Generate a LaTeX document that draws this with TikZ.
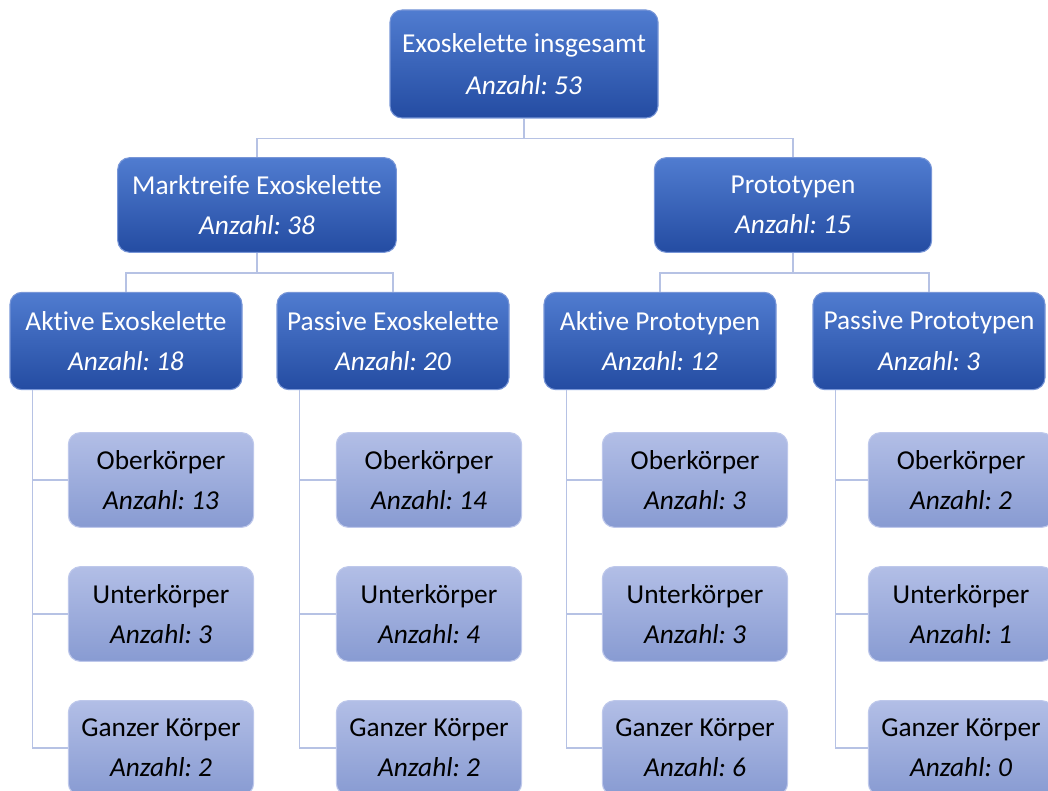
\documentclass[tikz,border=0pt]{standalone}
\usepackage{fontspec}
\setmainfont{Carlito}[Ligatures=NoCommon]
\usetikzlibrary{calc}
\definecolor{dtop}{RGB}{80,124,208}
\definecolor{dbot}{RGB}{36,76,162}
\definecolor{dedge}{RGB}{120,150,215}
\definecolor{ltop}{RGB}{178,190,230}
\definecolor{lbot}{RGB}{136,155,210}
\definecolor{ledge}{RGB}{190,200,235}
\definecolor{conn}{RGB}{182,194,228}
\tikzset{
  dbox/.style={rounded corners=9pt, top color=dtop, bottom color=dbot, draw=dedge, line width=0.8pt,
    text=white, align=center, inner sep=0pt, font=\fontsize{20.5}{30.5}\selectfont},
  lbox/.style={rounded corners=9pt, top color=ltop, bottom color=lbot, draw=ledge, line width=0.8pt,
    text=black, align=center, inner sep=0pt, font=\fontsize{20.5}{30}\selectfont,
    minimum width=139pt, minimum height=71pt},
  lvl3/.style={dbox, minimum width=174pt, minimum height=73pt},
  conline/.style={draw=conn, line width=1pt},
}
\begin{document}
\frenchspacing
\begin{tikzpicture}[x=0.75pt,y=-0.75pt]
\useasboundingbox (0,0) rectangle (1048,791);
% top
\node[dbox, minimum width=201pt, minimum height=81pt, font=\fontsize{20.5}{31.5}\selectfont] (top) at (524,64) {Exoskelette insgesamt\\\textit{Anzahl: 53}};
% level 2
\node[dbox, minimum width=209pt, minimum height=71pt] (mk) at (257,205) {Marktreife Exoskelette\\\textit{Anzahl: 38}};
\node[dbox, minimum width=208pt, minimum height=71pt] (pt) at (793,205) {Prototypen\\\textit{Anzahl: 15}};
% level 3
\node[lvl3] (ae) at (126,341) {Aktive Exoskelette\\\textit{Anzahl: 18}};
\node[lvl3] (pe) at (393,341) {Passive Exoskelette\\\textit{Anzahl: 20}};
\node[lvl3] (ap) at (660,341) {Aktive Prototypen\\\textit{Anzahl: 12}};
\node[lvl3] (pp) at (929,341) {Passive Prototypen\\\textit{Anzahl: 3}};
% level 4
\node[lbox] (ae1) at (161,480) {Oberkörper\\\textit{Anzahl: 13}};
\node[lbox] (ae2) at (161,614) {Unterkörper\\\textit{Anzahl: 3}};
\node[lbox] (ae3) at (161,748) {Ganzer Körper\\\textit{Anzahl: 2}};
\node[lbox] (pe1) at (429,480) {Oberkörper\\\textit{Anzahl: 14}};
\node[lbox] (pe2) at (429,614) {Unterkörper\\\textit{Anzahl: 4}};
\node[lbox] (pe3) at (429,748) {Ganzer Körper\\\textit{Anzahl: 2}};
\node[lbox] (ap1) at (695,480) {Oberkörper\\\textit{Anzahl: 3}};
\node[lbox] (ap2) at (695,614) {Unterkörper\\\textit{Anzahl: 3}};
\node[lbox] (ap3) at (695,748) {Ganzer Körper\\\textit{Anzahl: 6}};
\node[lbox] (pp1) at (961,480) {Oberkörper\\\textit{Anzahl: 2}};
\node[lbox] (pp2) at (961,614) {Unterkörper\\\textit{Anzahl: 1}};
\node[lbox] (pp3) at (961,748) {Ganzer Körper\\\textit{Anzahl: 0}};
% connectors
\draw[conline] (top.south) -- ++(0,20) -| (mk.north);
\draw[conline] (top.south) -- ++(0,20) -| (pt.north);
\draw[conline] (mk.south) -- ++(0,20) -| (ae.north);
\draw[conline] (mk.south) -- ++(0,20) -| (pe.north);
\draw[conline] (pt.south) -- ++(0,20) -| (ap.north);
\draw[conline] (pt.south) -- ++(0,20) -| (pp.north);
\foreach \p in {ae,pe,ap,pp}{
  \draw[conline] ([xshift=17.5pt]\p.south west) |- (\p1.west);
  \draw[conline] ([xshift=17.5pt]\p.south west) |- (\p2.west);
  \draw[conline] ([xshift=17.5pt]\p.south west) |- (\p3.west);
}
\end{tikzpicture}
\end{document}
